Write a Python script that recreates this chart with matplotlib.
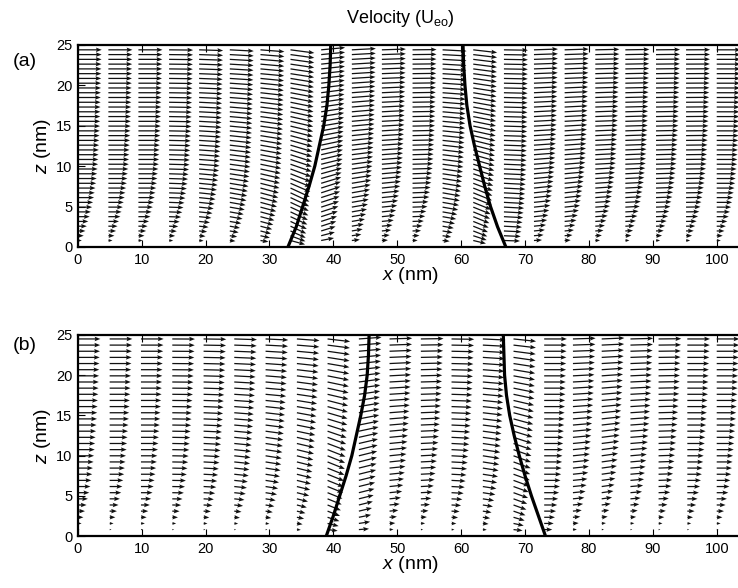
import numpy as np
import matplotlib
matplotlib.use("Agg")
import matplotlib.pyplot as plt

plt.rcParams['font.family'] = ['Liberation Sans', 'DejaVu Sans']
plt.rcParams['mathtext.fontset'] = 'custom'
plt.rcParams['mathtext.rm'] = 'Liberation Sans'
plt.rcParams['mathtext.it'] = 'Liberation Sans:italic'

# ---- data ----
# column positions of the arrow grid (nm)
cols_a = [0, 4.8, 9.5, 14.3, 19.0, 23.8, 28.6, 33.3, 38.1, 42.9, 47.6,
          52.4, 57.1, 61.9, 66.7, 71.4, 76.2, 81.0, 85.7, 90.5, 95.2, 100.0]
cols_b = [0, 5.0, 9.9, 14.8, 19.7, 24.5, 29.4, 34.3, 39.1, 44.0, 48.8,
          53.7, 58.5, 63.4, 68.2, 73.0, 77.5, 82.0, 86.5, 90.9, 95.4, 100.0]

# row heights (nm)
rows_a = np.linspace(0.8, 24.4, 41)
rows_b = np.linspace(0.8, 24.5, 32)

# relative arrow length far from the fronts, per row
speed_a = [0.17, 0.25, 0.32, 0.38, 0.44, 0.50, 0.55, 0.60, 0.64, 0.68,
           0.71, 0.74, 0.77, 0.79, 0.81, 0.83, 0.85, 0.86, 0.87, 0.88,
           0.89, 0.90, 0.91, 0.92, 0.93, 0.935, 0.94, 0.945, 0.95, 0.955,
           0.96, 0.965, 0.97, 0.975, 0.98, 0.985, 0.988, 0.99, 0.994, 0.997, 1.0]
speed_b = [0.08, 0.17, 0.25, 0.32, 0.39, 0.45, 0.51, 0.56, 0.60, 0.64,
           0.67, 0.70, 0.72, 0.75, 0.77, 0.79, 0.81, 0.83, 0.85, 0.86,
           0.88, 0.89, 0.91, 0.92, 0.93, 0.94, 0.95, 0.96, 0.97, 0.98, 0.99, 1.0]

# extra length near the wall, per column
boost_a = [0, 0, 0, 0, 0.02, 0.08, 0.2, 0.55, 0.45, 0.2, 0.1,
           0.05, 0.15, 0.45, 0.6, 0.2, 0.1, 0.03, 0, 0, 0, 0]
boost_b = [0, 0, 0, 0, 0, 0, 0, 0.1, 0.4, 0.4, 0.1,
           0.02, 0.05, 0.1, 0.35, 0.3, 0.1, 0.02, 0, 0, 0, 0]

# arrow tilt in degrees (positive = upward), per column
tilt_a = [0, 0, 0, -2, -6, -10, -15, -25, 18, 10, 6,
          2, -10, -22, -3, 6, 6, 4, 3, 2, 1, 0]
tilt_b = [0, 0, 0, -1, -3, -6, -9, -14, -22, 14, 6,
          3, -3, -9, -20, 0, 6, 8, 5, 2, 0, 0]

# fronts (thick lines)
front_z = [0, 2.5, 5, 7.5, 10, 12.5, 15, 17.5, 20, 22.5, 25]
left_a = [32.9, 34.2, 35.2, 36.2, 37.1, 37.8, 38.5, 39.0, 39.3, 39.5, 39.6]
right_a = [67.0, 65.7, 64.6, 63.7, 62.9, 62.1, 61.4, 60.9, 60.6, 60.4, 60.3]
left_b = [38.9, 40.0, 41.0, 42.0, 42.9, 43.6, 44.3, 44.9, 45.3, 45.5, 45.6]
right_b = [73.2, 72.1, 71.0, 70.0, 69.1, 68.3, 67.6, 67.1, 66.8, 66.7, 66.6]


def field(cols, rows, speed, boost, tilt):
    X, Z = np.meshgrid(cols, rows)
    s = np.array(speed)[:, None]
    b = np.array(boost)[None, :]
    mag = b + (1 - b) * s
    # tilt strongest at mid height, weaker at the wall and at the top
    w = np.clip(4 * s * (1 - s) + 0.3 * s, 0, 1)
    th = np.deg2rad(np.array(tilt)[None, :] * w)
    return X, Z, mag * np.cos(th), mag * np.sin(th)


fig = plt.figure(figsize=(7.38, 5.88), dpi=100)
ax_a = fig.add_axes([0.1053, 0.580, 0.9005, 0.3435])
ax_b = fig.add_axes([0.1053, 0.0884, 0.9005, 0.3420])

panels = [
    (ax_a, cols_a, rows_a, speed_a, boost_a, tilt_a, left_a, right_a, 3.76),
    (ax_b, cols_b, rows_b, speed_b, boost_b, tilt_b, left_b, right_b, 3.55),
]

for ax, cols, rows, speed, boost, tilt, lf, rf, L in panels:
    X, Z, U, V = field(cols, rows, speed, boost, tilt)
    ax.quiver(X, Z, U, V, angles='uv', scale_units='x', scale=1.0 / L,
              width=0.0019, headwidth=3.6, headlength=4.6, headaxislength=4.0,
              color='#111111', zorder=2)
    ax.plot(lf, front_z, color='k', lw=2.3, zorder=3)
    ax.plot(rf, front_z, color='k', lw=2.3, zorder=3)
    ax.set_xlim(0, 104)
    ax.set_ylim(0, 25)
    ax.set_xticks(range(0, 101, 10))
    ax.set_yticks(range(0, 26, 5))
    ax.tick_params(direction='in', top=True, right=False, length=5,
                   width=0.8, labelsize=10.5, pad=4)
    for sp in ax.spines.values():
        sp.set_linewidth(1.6)
    ax.set_xlabel('$x$ (nm)', fontsize=14, labelpad=-1)
    ax.set_ylabel('$z$ (nm)', fontsize=14, labelpad=2)

fig.text(0.542, 0.969, r'Velocity (U$_{\rm eo}$)', ha='center', va='center', fontsize=13)
fig.text(0.034, 0.895, '(a)', ha='center', va='center', fontsize=14)
fig.text(0.034, 0.412, '(b)', ha='center', va='center', fontsize=14)

fig.savefig('out.png', dpi=100)
